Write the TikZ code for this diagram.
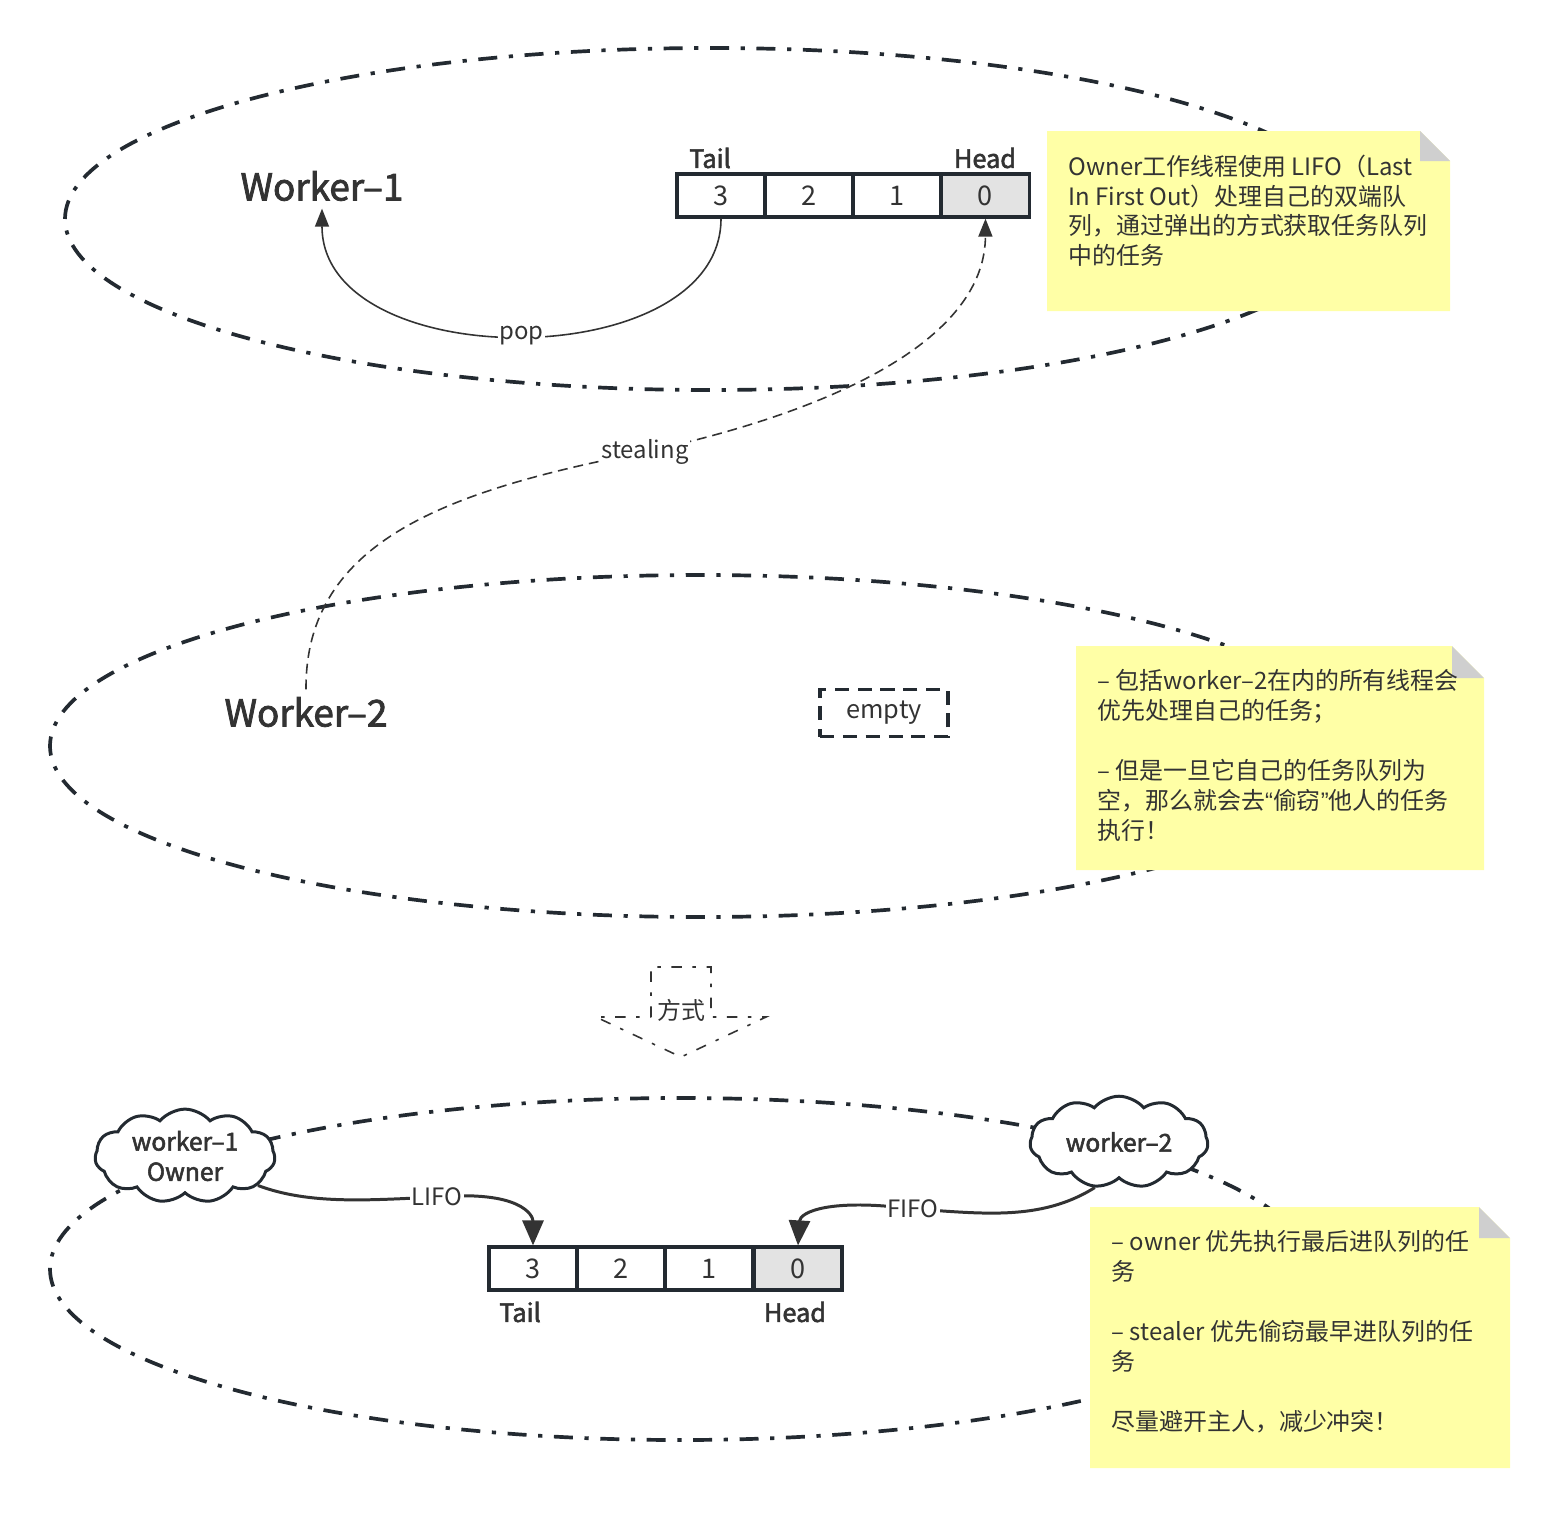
\documentclass[tikz,border=0pt]{standalone}
\usepackage{fontspec}
\setmainfont{Noto Sans CJK SC}
\newfontfamily\medfont{Noto Sans CJK SC}[FakeBold=2.2]
\newfontfamily\quotefont{Liberation Sans}
\usepackage{tikz}
\usetikzlibrary{positioning,shapes.symbols,arrows.meta}
\usepackage{xcolor}
\definecolor{inkc}{HTML}{232A31}
\definecolor{txtc}{HTML}{333333}
\definecolor{notec}{HTML}{FFFFA6}
\definecolor{foldc}{HTML}{CFCFCF}
\definecolor{cellg}{HTML}{E3E3E3}

\begin{document}
\begin{tikzpicture}[x=0.01cm, y=-0.01cm, text=txtc,
  orbit/.style={draw=inkc, line width=1.05pt, dash pattern=on 5.4pt off 3.3pt on 1.2pt off 3.3pt},
  cell/.style={draw=inkc, line width=0.9pt, minimum width=0.88cm, minimum height=0.43cm, inner sep=0pt, font=\fontsize{7.7}{9}\selectfont},
  endlbl/.style={inner sep=0pt, font=\fontsize{7.2}{8}\medfont},
  worker/.style={inner sep=2pt, font=\fontsize{10.5}{12}\medfont},
  lbl/.style={fill=white, inner sep=0.5pt, font=\fontsize{6.8}{8}\selectfont},
  notetext/.style={anchor=north west, inner sep=0pt, align=left, font=\fontsize{6.8}{8.5}\selectfont},
  puff/.style={cloud, cloud puffs=11, cloud puff arc=100, aspect=2.1, draw=inkc, line width=0.85pt, fill=white, inner sep=0.5pt, align=center, font=\fontsize{7}{8.6}\medfont},
  popline/.style={draw=txtc, line width=0.45pt, -{Triangle[length=0.18cm, width=0.14cm]}},
  flow/.style={draw=txtc, line width=0.85pt, -{Triangle[length=0.25cm, width=0.21cm]}}]
\useasboundingbox (0,0) rectangle (1560,1520);

% the three threads
\draw[orbit] (710,219) ellipse [x radius=645, y radius=171];
\draw[orbit] (700,746) ellipse [x radius=650, y radius=171];
\draw[orbit] (680,1269) ellipse [x radius=630, y radius=171];

% worker-1 with its deque
\node[worker] (w1) at (322,186) {Worker–1};
\node[cell] (q1a) at (721,195.5) {3};
\node[cell] (q1b) at (809,195.5) {2};
\node[cell] (q1c) at (897,195.5) {1};
\node[cell, fill=cellg] (q1d) at (985.5,195.5) {0};
\node[endlbl] (tail1) at (710,158) {Tail};
\node[endlbl] (head1) at (985,158) {Head};
\draw[popline] (q1a.south) .. controls (721,376) and (322,376) .. node[lbl] {pop} (w1.south);

% worker-2 steals from the head
\node[worker] (w2) at (306,712) {Worker–2};
\node[draw=inkc, line width=0.9pt, dash pattern=on 4pt off 2.5pt, minimum width=1.28cm, minimum height=0.45cm, font=\fontsize{7.2}{8}\selectfont] (emp) at (884,713) {empty};
\draw[popline, dash pattern=on 2.8pt off 1.7pt] (w2.north) .. controls (305,540) and (450,490) .. (645,452) node[lbl] {stealing} .. controls (860,405) and (985,330) .. (q1d.south);

% notes
\fill[notec] (1047,131) -- (1420,131) -- (1450,161) -- (1450,311) -- (1047,311) -- cycle;
\fill[foldc] (1420,131) -- (1420,161) -- (1450,161) -- cycle;
\node[notetext] (n1) at (1068,154) {Owner工作线程使用 LIFO（Last\\In First Out）处理自己的双端队\\列，通过弹出的方式获取任务队列\\中的任务};

\fill[notec] (1076,646) -- (1452,646) -- (1484,678) -- (1484,870) -- (1076,870) -- cycle;
\fill[foldc] (1452,646) -- (1452,678) -- (1484,678) -- cycle;
\node[notetext] (n2) at (1097,669) {– 包括worker–2在内的所有线程会\\优先处理自己的任务；\\[8.5pt]– 但是一旦它自己的任务队列为\\空，那么就会去{\quotefont “}偷窃{\quotefont ”}他人的任务\\执行！};

% the way it works
\draw[draw=txtc, line width=0.45pt, dash pattern=on 3pt off 3pt on 1pt off 3pt] (651,1017) -- (651,967) -- (711,967) -- (711,1017) -- (766,1017) -- (681,1057) -- (596,1017) -- cycle;
\node[font=\fontsize{6.8}{8}\selectfont, inner sep=0pt] (way) at (681,1010) {方式};

\node[puff, minimum width=1.8cm, minimum height=0.8cm] (k1) at (185,1156) {worker–1\\Owner};
\node[puff, minimum width=1.78cm, minimum height=0.8cm] (k2) at (1119,1142) {worker–2};

\node[cell] (q2a) at (533,1268.5) {3};
\node[cell] (q2b) at (621,1268.5) {2};
\node[cell] (q2c) at (709,1268.5) {1};
\node[cell, fill=cellg] (q2d) at (798,1268.5) {0};
\node[endlbl] (tail2) at (520,1312) {Tail};
\node[endlbl] (head2) at (795,1312) {Head};

\draw[flow] (k1.-22) .. controls (310,1205) and (370,1200) .. (437,1197) node[lbl] {LIFO} .. controls (520,1190) and (533,1215) .. (q2a.north);
\draw[flow] (k2.-118) .. controls (1040,1222) and (980,1213) .. (913,1209) node[lbl] {FIFO} .. controls (830,1198) and (800,1212) .. (q2d.north);

\fill[notec] (1090,1207) -- (1479,1207) -- (1510,1238) -- (1510,1468) -- (1090,1468) -- cycle;
\fill[foldc] (1479,1207) -- (1479,1238) -- (1510,1238) -- cycle;
\node[notetext] (n3) at (1111,1230) {– owner 优先执行最后进队列的任\\务\\[8.5pt]– stealer 优先偷窃最早进队列的任\\务\\[8.5pt]尽量避开主人，减少冲突！};
\end{tikzpicture}
\end{document}
